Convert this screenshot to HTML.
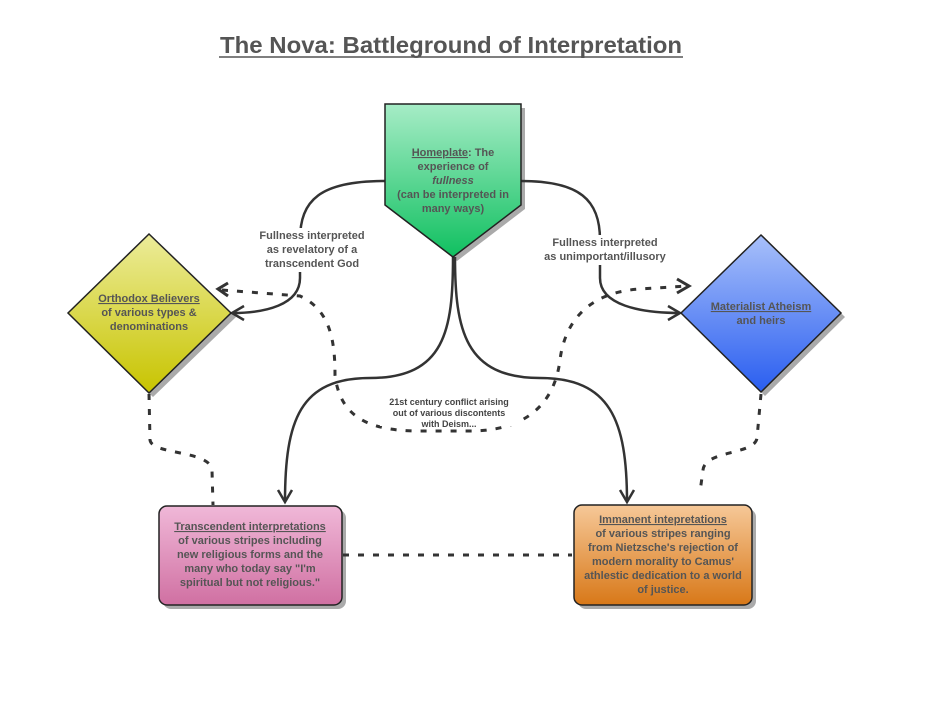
<!DOCTYPE html>
<html><head><meta charset="utf-8"><style>
body{margin:0;background:#fff;}
svg{display:block;font-family:"Liberation Sans",Arial,sans-serif;font-weight:bold;}
</style></head><body>
<svg width="941" height="705" viewBox="0 0 941 705">
<defs>
<linearGradient id="g" x1="0" y1="0" x2="0" y2="1"><stop offset="0" stop-color="#a6ecc6"/><stop offset="1" stop-color="#10c060"/></linearGradient>
<linearGradient id="y" x1="0" y1="0" x2="0" y2="1"><stop offset="0" stop-color="#ecec9a"/><stop offset="1" stop-color="#c8c400"/></linearGradient>
<linearGradient id="b" x1="0" y1="0" x2="0" y2="1"><stop offset="0" stop-color="#a8c0fa"/><stop offset="1" stop-color="#2a5ef0"/></linearGradient>
<linearGradient id="p" x1="0" y1="0" x2="0" y2="1"><stop offset="0" stop-color="#f0b8d8"/><stop offset="1" stop-color="#d070a2"/></linearGradient>
<linearGradient id="o" x1="0" y1="0" x2="0" y2="1"><stop offset="0" stop-color="#f6c898"/><stop offset="1" stop-color="#d87818"/></linearGradient>
</defs>
<text x="220" y="53" font-size="23" fill="#555" textLength="462" lengthAdjust="spacingAndGlyphs">The Nova: Battleground of Interpretation</text>
<line x1="219" y1="57" x2="683" y2="57" stroke="#555" stroke-width="1.5"/>

<!-- shadows -->
<g fill="#aaa">
<polygon points="389,108 525,108 525,209 457,261 389,209"/>
<polygon points="153,238 236,317 153,397 72,317"/>
<polygon points="765,239 845,317 765,396 685,317"/>
<rect x="163" y="510" width="183" height="99" rx="8"/>
<rect x="578" y="509" width="178" height="100" rx="8"/>
</g>

<!-- connectors -->
<g fill="none" stroke="#333" stroke-width="2.5">
<path d="M385,181 C320,181 300,200 300,240 L300,278 C300,305 265,313 232,313"/>
<path d="M521,181 C580,181 600,200 600,240 L600,278 C600,305 640,313 680,313"/>
<path d="M453,257 C453,330 445,378 370,378 C300,378 285,420 285,502"/>
<path d="M455,257 C455,330 465,378 540,378 C610,378 627,420 627,502"/>
<path d="M244,306 L232,313 L244,320"/>
<path d="M668,306 L680,313 L668,320"/>
<path d="M278,490 L285,502 L292,490"/>
<path d="M620,490 L627,502 L634,490"/>
</g>
<g fill="none" stroke="#333" stroke-width="3" stroke-dasharray="6,9">
<path d="M222,290 L300,296 C330,310 335,340 335,375 C340,418 370,431 420,431 L470,431 C530,431 555,400 560,360 C565,320 590,292 640,289 L688,286"/>
<path d="M149,394 L150,440 C152,455 210,450 212,470 L213,505"/>
<path d="M761,394 L757,438 C755,455 705,450 703,470 L700,492"/>
<path d="M343,555 L572,555"/>
</g>
<g fill="none" stroke="#333" stroke-width="3">
<path d="M228,283 L218,289 L228,296"/>
<path d="M677,279 L689,286 L677,293"/>
</g>

<!-- label backgrounds -->
<g fill="#fff">
<rect x="252" y="228" width="120" height="44"/>
<rect x="538" y="235" width="136" height="30"/>
<rect x="380" y="396" width="138" height="30"/>
</g>

<!-- shapes -->
<polygon points="385,104 521,104 521,205 453,257 385,205" fill="url(#g)" stroke="#222" stroke-width="1.5"/>
<polygon points="149,234 231,313 149,393 68,313" fill="url(#y)" stroke="#222" stroke-width="1.5"/>
<polygon points="761,235 841,313 761,392 681,313" fill="url(#b)" stroke="#222" stroke-width="1.5"/>
<rect x="159" y="506" width="183" height="99" rx="8" fill="url(#p)" stroke="#222" stroke-width="1.5"/>
<rect x="574" y="505" width="178" height="100" rx="8" fill="url(#o)" stroke="#222" stroke-width="1.5"/>

<!-- texts -->
<g font-size="11" fill="#555" text-anchor="middle">
<text x="453" y="156"><tspan text-decoration="underline">Homeplate</tspan>: The</text>
<text x="453" y="170">experience of</text>
<text x="453" y="184" font-style="italic">fullness</text>
<text x="453" y="198">(can be interpreted in</text>
<text x="453" y="212">many ways)</text>

<text x="312" y="239">Fullness interpreted</text>
<text x="312" y="253">as revelatory of a</text>
<text x="312" y="267">transcendent God</text>

<text x="605" y="246">Fullness interpreted</text>
<text x="605" y="260">as unimportant/illusory</text>

<text x="149" y="302" text-decoration="underline">Orthodox Believers</text>
<text x="149" y="316">of various types &amp;</text>
<text x="149" y="330">denominations</text>

<text x="761" y="310" text-decoration="underline">Materialist Atheism</text>
<text x="761" y="324">and heirs</text>

<text x="250" y="530" text-decoration="underline">Transcendent interpretations</text>
<text x="250" y="544">of various stripes including</text>
<text x="250" y="558">new religious forms and the</text>
<text x="250" y="572">many who today say "I'm</text>
<text x="250" y="586">spiritual but not religious."</text>

<text x="663" y="523" text-decoration="underline">Immanent intepretations</text>
<text x="663" y="537">of various stripes ranging</text>
<text x="663" y="551">from Nietzsche's rejection of</text>
<text x="663" y="565">modern morality to Camus'</text>
<text x="663" y="579">athlestic dedication to a world</text>
<text x="663" y="593">of justice.</text>
</g>
<g font-size="9" fill="#444" text-anchor="middle">
<text x="449" y="405">21st century conflict arising</text>
<text x="449" y="416">out of various discontents</text>
<text x="449" y="427">with Deism...</text>
</g>
</svg>
</body></html>
